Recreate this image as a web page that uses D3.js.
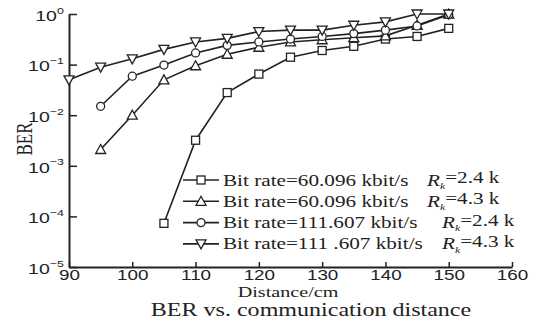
<!DOCTYPE html>
<html>
<head>
<meta charset="utf-8">
<script src="https://cdn.jsdelivr.net/npm/d3@7"></script>
<style>
  body { margin: 0; background: #fff; }
  svg { font-family: "Liberation Serif", "DejaVu Serif", serif; }
</style>
</head>
<body>
<svg id="chart" width="539" height="326"></svg>
<script>
// distances (cm)
let distances = [90, 95, 100, 105, 110, 115, 120, 125, 130, 135, 140, 145, 150];

// BER values, null = no point
let berSquare   = [null, null, null, 7.3e-5, 0.0032, 0.028, 0.065, 0.14, 0.19, 0.23, 0.32, 0.36, 0.52];
let berTriangle = [null, 0.0021, 0.01, 0.05, 0.095, 0.16, 0.22, 0.28, 0.31, 0.34, 0.37, 0.6, 1.0];
let berCircle   = [null, 0.015, 0.059, 0.098, 0.17, 0.24, 0.28, 0.32, 0.36, 0.41, 0.48, 0.58, 0.97];
let berDown     = [0.05, 0.089, 0.13, 0.2, 0.28, 0.33, 0.45, 0.48, 0.48, 0.6, 0.7, 1.0, 1.0];

let legendRates = ["60.096", "60.096", "111.607", "111 .607"];
let legendRk = ["2.4", "4.3", "2.4", "4.3"];

let xTicks = [90, 100, 110, 120, 130, 140, 150, 160];
let yExponents = [0, -1, -2, -3, -4, -5];

let series = [
    {values: berSquare, marker: "square"},
    {values: berTriangle, marker: "up"},
    {values: berCircle, marker: "circle"},
    {values: berDown, marker: "down"}
];

let ink = "#222";
let sx = 1.3;  // the reference image is stretched horizontally
let svg = d3.select("#chart");

let x = d3.scaleLinear().domain([90, 160]).range([69, 512]);
let y = d3.scaleLog().domain([1e-5, 1]).range([267, 14]);

// x axis
let xAxis = svg.append("g")
    .attr("transform", "translate(0," + y(1e-5) + ")")
    .call(d3.axisBottom(x).tickValues(xTicks).tickSize(-5).tickSizeOuter(0).tickPadding(3));
xAxis.selectAll("text").attr("font-size", 14.5).attr("fill", ink).attr("font-family", null)
    .attr("transform", "scale(" + sx + ",1)");

// y axis
let yAxis = svg.append("g")
    .attr("transform", "translate(" + x(90) + ",0)")
    .call(d3.axisLeft(y).tickValues(yExponents.map(e => Math.pow(10, e))).tickSize(-8).tickSizeOuter(0).tickPadding(4).tickFormat(""));
yAxis.selectAll(".tick").each(function(d) {
    let e = Math.round(Math.log10(d));
    let t = d3.select(this).select("text")
        .attr("font-size", 15).attr("fill", ink).attr("font-family", null).attr("dy", "0.42em")
        .attr("transform", "scale(" + sx + ",1)");
    t.append("tspan").text("10");
    t.append("tspan").attr("font-size", 9.5).attr("dy", "-0.75em").text(e === 0 ? "0" : "\u2212" + (-e));
});

svg.selectAll(".domain").attr("stroke", ink).attr("stroke-width", 2);
svg.selectAll(".tick line").attr("stroke", ink).attr("stroke-width", 1.5);

// labels
svg.append("text").attr("transform", "translate(288,297) scale(" + sx + ",1)").attr("text-anchor", "middle")
    .attr("font-size", 15.5).attr("fill", ink).text("Distance/cm");
svg.append("text").attr("transform", "translate(311,316) scale(" + sx + ",1)").attr("text-anchor", "middle")
    .attr("font-size", 18.5).attr("fill", ink).text("BER vs. communication distance");
svg.append("text").attr("transform", "translate(32,139) rotate(-90) scale(1," + sx + ")").attr("text-anchor", "middle")
    .attr("font-size", 17).attr("fill", ink).text("BER");

function drawMarker(g, type, cx, cy) {
    let s = 4;
    if (type === "square") {
        g.append("rect").attr("x", cx - s).attr("y", cy - s).attr("width", 2 * s).attr("height", 2 * s);
    } else if (type === "circle") {
        g.append("circle").attr("cx", cx).attr("cy", cy).attr("r", s);
    } else if (type === "up") {
        g.append("path").attr("d", "M" + cx + "," + (cy - s - 1) + "L" + (cx + s + 1) + "," + (cy + s) + "L" + (cx - s - 1) + "," + (cy + s) + "Z");
    } else {
        g.append("path").attr("d", "M" + cx + "," + (cy + s + 1) + "L" + (cx + s + 1) + "," + (cy - s) + "L" + (cx - s - 1) + "," + (cy - s) + "Z");
    }
}

let line = d3.line()
    .defined(d => d.v != null)
    .x(d => x(d.d))
    .y(d => y(d.v));

series.forEach(function(s) {
    let pts = distances.map((d, i) => ({d: d, v: s.values[i]}));
    svg.append("path").datum(pts)
        .attr("d", line).attr("fill", "none").attr("stroke", ink).attr("stroke-width", 1.6);
    let g = svg.append("g").attr("fill", "#fff").attr("stroke", ink).attr("stroke-width", 1.3);
    pts.filter(p => p.v != null).forEach(p => drawMarker(g, s.marker, x(p.d), y(p.v)));
});

// legend
let legend = svg.append("g");
series.forEach(function(s, i) {
    let ly = 180 + i * 21.3;
    legend.append("line").attr("x1", 183).attr("x2", 219).attr("y1", ly).attr("y2", ly)
        .attr("stroke", ink).attr("stroke-width", 1.6);
    let g = legend.append("g").attr("fill", "#fff").attr("stroke", ink).attr("stroke-width", 1.3);
    drawMarker(g, s.marker, 201, ly);
    legend.append("text").attr("transform", "translate(223," + (ly + 5.5) + ") scale(" + sx + ",1)")
        .attr("font-size", 16.3).attr("fill", ink)
        .text("Bit rate=" + legendRates[i] + " kbit/s");
    let t = legend.append("text").attr("transform", "translate(" + (i < 2 ? 427 : 442) + "," + (ly + 5.5) + ") scale(" + sx + ",1)")
        .attr("font-size", 16.3).attr("fill", ink);
    t.append("tspan").attr("font-style", "italic").text("R");
    t.append("tspan").attr("font-style", "italic").attr("font-size", 9).attr("dy", "0.35em").text("k");
    t.append("tspan").attr("dy", "-0.35em").text("=" + legendRk[i] + " k");
});
</script>
</body>
</html>
